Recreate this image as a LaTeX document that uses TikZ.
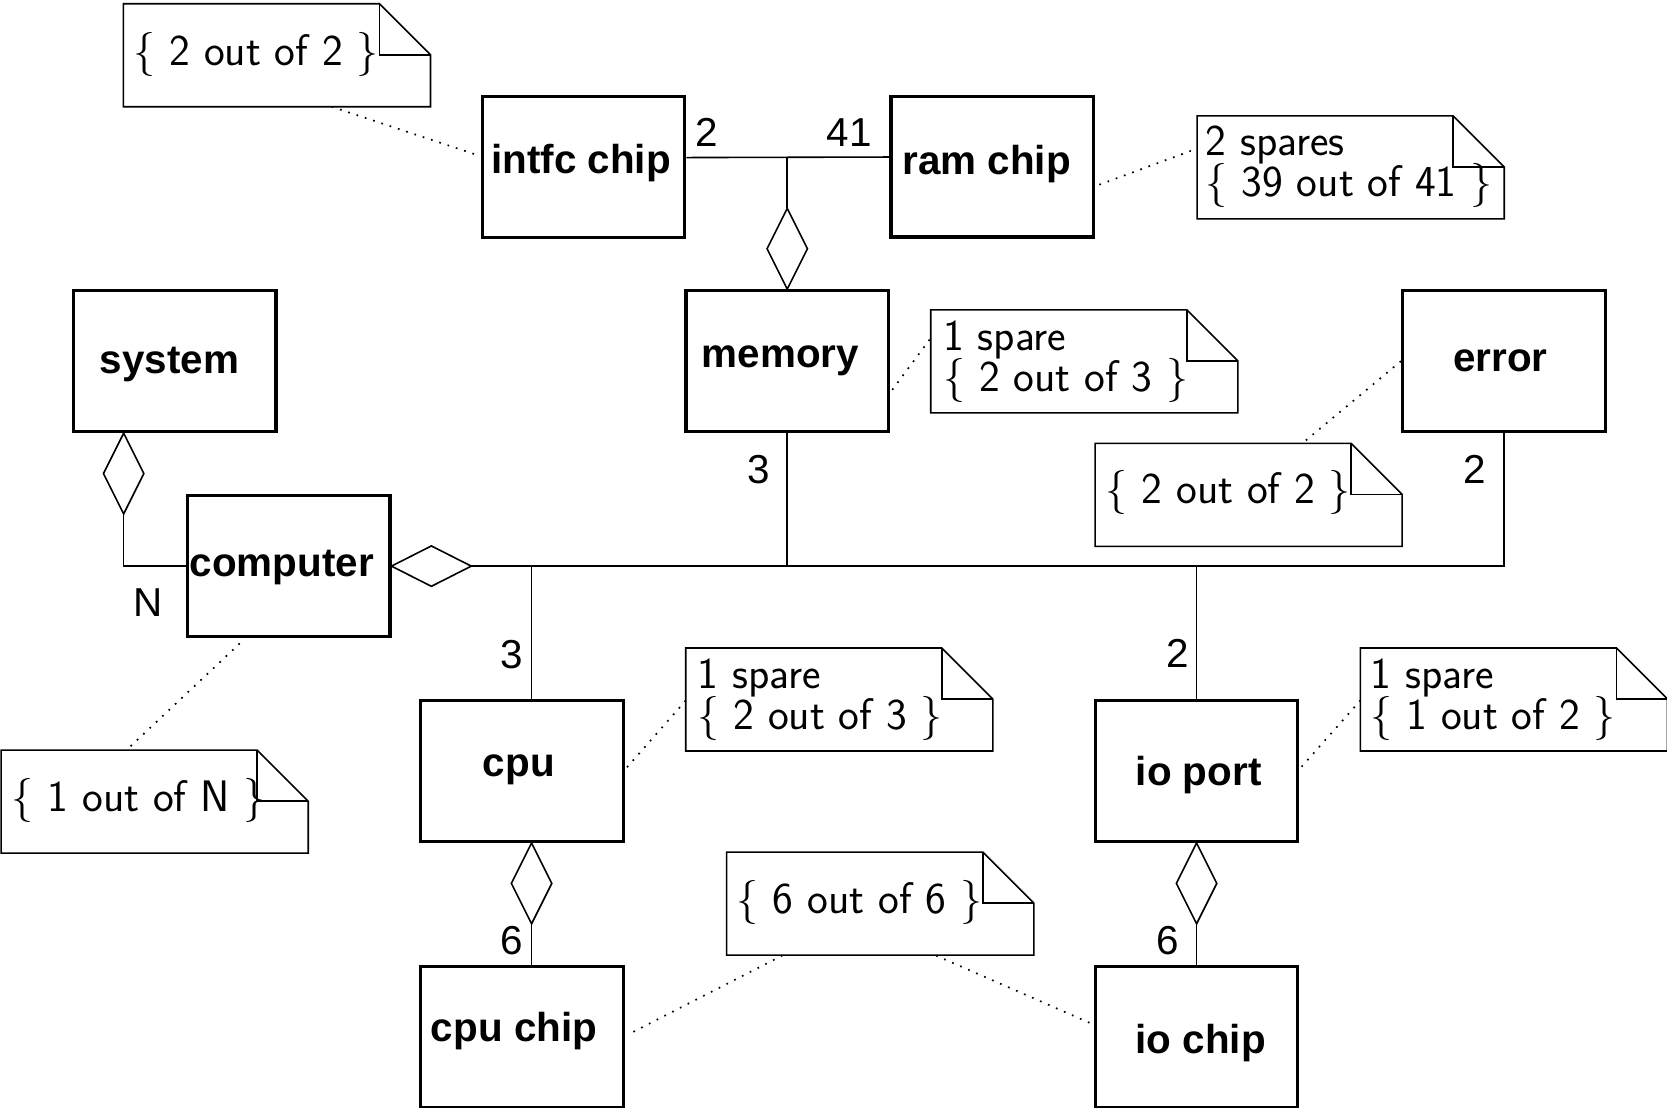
\documentclass[tikz,border=0pt]{standalone}
\usepackage{fontspec}
\setmainfont{Liberation Sans}
\usetikzlibrary{calc}

\tikzset{
  classbox/.style={draw, line width=3pt, rectangle, inner sep=0pt,
    minimum width=190.5pt, minimum height=132.5pt},
  notebox/.style={rectangle, inner sep=0pt, anchor=north west,
    minimum width=288.5pt, minimum height=96.5pt},
  noteline/.style={line width=1.5pt, line join=miter},
  link/.style={line width=1.5pt},
  agg/.style={line width=1.5pt, fill=white, line join=miter},
  anno/.style={line width=1.6pt, dash pattern=on 1.6pt off 6.6pt},
  lbl/.style={inner sep=0pt, anchor=base, font=\fontsize{38}{44}\selectfont\bfseries},
  mult/.style={inner sep=0pt, anchor=base, font=\fontsize{38}{44}\selectfont},
  ntxt/.style={inner sep=0pt, anchor=base west, font=\fontsize{41.5}{44}\selectfont\sffamily},
}

\begin{document}
\begin{tikzpicture}[x=1pt, y=-1pt]
\useasboundingbox (0,0) rectangle (1568,1042);

% class boxes
\node[classbox] (intfc)    at (548.8,157.2) {};
\node[classbox] (ram)      at (933.3,156.7) {};
\node[classbox] (system)   at (164.3,339.7) {};
\node[classbox] (memory)   at (740.5,339.7) {};
\node[classbox] (error)    at (1414.5,339.7) {};
\node[classbox] (computer) at (271.5,532.5) {};
\node[classbox] (cpu)      at (491,725.2) {};
\node[classbox] (ioport)   at (1125.5,725.2) {};
\node[classbox] (cpuchip)  at (491,975.5) {};
\node[classbox] (iochip)   at (1125.5,975.5) {};

% class names
\node[lbl] (intfcL)    at (546.5,163)   {intfc chip};
\node[lbl] (ramL)      at (928,164.6)   {ram chip};
\node[lbl] (systemL)   at (159.5,351)   {system};
\node[lbl] (memoryL)   at (734,346)     {memory};
\node[lbl] (errorL)    at (1411.4,349.6){error};
\node[lbl] (computerL) at (265,542.5)   {computer};
\node[lbl] (cpuL)      at (488,730.6)   {cpu};
\node[lbl] (ioportL)   at (1127.5,739)  {io port};
\node[lbl] (cpuchipL)  at (483.5,979.8) {cpu chip};
\node[lbl] (iochipL)   at (1129.3,990.7){io chip};

% memory aggregates interface and ram chips
\coordinate (memtip) at ($(memory.north)+(0,-76)$);
\draw[link] ($(intfc.east)+(0,-9)$) -- ($(ram.west)+(0,-9)$);
\draw[link] (memtip) -- (memtip |- {$(intfc.east)+(0,-9)$});
\draw[agg] (memory.north) -- ++(-19,-38) -- (memtip) -- ++(19,38) -- cycle;

% system aggregates computers
\coordinate (systop) at ($(system.south)+(-48,0)$);
\coordinate (systip) at ($(systop)+(0,76)$);
\draw[agg] (systop) -- ++(-19,38) -- (systip) -- ++(19,-38) -- cycle;
\draw[link] (systip) |- (computer.west);

% computer aggregates memory, cpu, io port, error
\coordinate (comptip) at ($(computer.east)+(75,0)$);
\draw[agg] (computer.east) -- ++(37.5,-19) -- (comptip) -- ++(-37.5,19) -- cycle;
\draw[link] (comptip) -| (error.south);
\draw[link] (memory.south) -- (memory.south |- comptip);
\coordinate (cputop) at ($(cpu.north)+(9,0)$);
\draw[link] (cputop) -- (cputop |- comptip);
\draw[link] (ioport.north) -- (ioport.north |- comptip);

% cpu aggregates cpu chips
\coordinate (cpubot) at ($(cpu.south)+(9,0)$);
\coordinate (cputip) at ($(cpubot)+(0,76)$);
\draw[agg] (cpubot) -- ++(-19,38) -- (cputip) -- ++(19,-38) -- cycle;
\draw[link] (cputip) -- (cputip |- cpuchip.north);

% io port aggregates io chips
\coordinate (iotip) at ($(ioport.south)+(0,76)$);
\draw[agg] (ioport.south) -- ++(-19,38) -- (iotip) -- ++(19,-38) -- cycle;
\draw[link] (iotip) -- (iochip.north);

% multiplicities
\node[mult] (m1) at (665,138)     {2};
\node[mult] (m2) at (798.7,138)   {41};
\node[mult] (m3) at (713.5,455)   {3};
\node[mult] (m4) at (1386.7,455)  {2};
\node[mult] (m5) at (481.5,628.5) {3};
\node[mult] (m6) at (1108,628)    {2};
\node[mult] (m7) at (481.5,897.5) {6};
\node[mult] (m8) at (1098,897.5)  {6};
\node[mult] (m9) at (139.5,580)   {N};

% notes
\node[notebox] (n1) at (116,3.5)     {};
\node[notebox] (n2) at (1126,109)    {};
\node[notebox] (n3) at (875.5,291.5) {};
\node[notebox] (n4) at (1030,417)    {};
\node[notebox] (n5) at (645,609.5)   {};
\node[notebox] (n6) at (1279.5,609.5){};
\node[notebox] (n7) at (1,705.5)     {};
\node[notebox] (n8) at (683.5,801.5) {};
\foreach \n in {n1,n2,n3,n4,n5,n6,n7,n8}{
  \draw[noteline] (\n.north west) -- ($(\n.north east)+(-48,0)$)
    -- ($(\n.north east)+(0,48)$) -- (\n.south east) -- (\n.south west) -- cycle;
  \draw[noteline] ($(\n.north east)+(-48,0)$) |- ($(\n.north east)+(0,48)$);
}

\node[ntxt] (n1a) at (125.5,62)     {\{ 2 out of 2 \}};
\node[ntxt] (n2a) at (1134,146.4)   {2 spares};
\node[ntxt] (n2b) at (1134,185)     {\{ 39 out of 41 \}};
\node[ntxt] (n3a) at (887,329.8)    {1 spare};
\node[ntxt] (n3b) at (887,368.4)    {\{ 2 out of 3 \}};
\node[ntxt] (n4a) at (1040,474)     {\{ 2 out of 2 \}};
\node[ntxt] (n5a) at (656,647.5)    {1 spare};
\node[ntxt] (n5b) at (656,686)      {\{ 2 out of 3 \}};
\node[ntxt] (n6a) at (1289,647.5)   {1 spare};
\node[ntxt] (n6b) at (1289,686)     {\{ 1 out of 2 \}};
\node[ntxt] (n7a) at (11,763.5)     {\{ 1 out of N \}};
\node[ntxt] (n8a) at (693,859)      {\{ 6 out of 6 \}};

% note attachments
\draw[anno] ($(n1.south west)+(196,0)$) -- ($(intfc.west)+(-2,-11)$);
\draw[anno] ($(ram.east)+(4,17)$) -- ($(n2.west)+(-2,-17)$);
\draw[anno] ($(memory.east)+(2,27)$) -- ($(n3.west)+(0,-22)$);
\draw[anno] ($(error.west)+(0,0)$) -- ($(n4.north west)+(195,0)$);
\draw[anno] ($(computer.south)+(-46,5)$) -- ($(n7.north west)+(118,0)$);
\draw[anno] ($(cpu.east)+(2,-3.5)$) -- ($(n5.west)+(0,1)$);
\draw[anno] ($(ioport.east)+(2,-4)$) -- ($(n6.west)+(0,1)$);
\draw[anno] ($(cpuchip.east)+(8,-5)$) -- ($(n8.south west)+(53,0)$);
\draw[anno] ($(iochip.west)+(-4,-13.5)$) -- ($(n8.south west)+(196,0)$);
\end{tikzpicture}
\end{document}
